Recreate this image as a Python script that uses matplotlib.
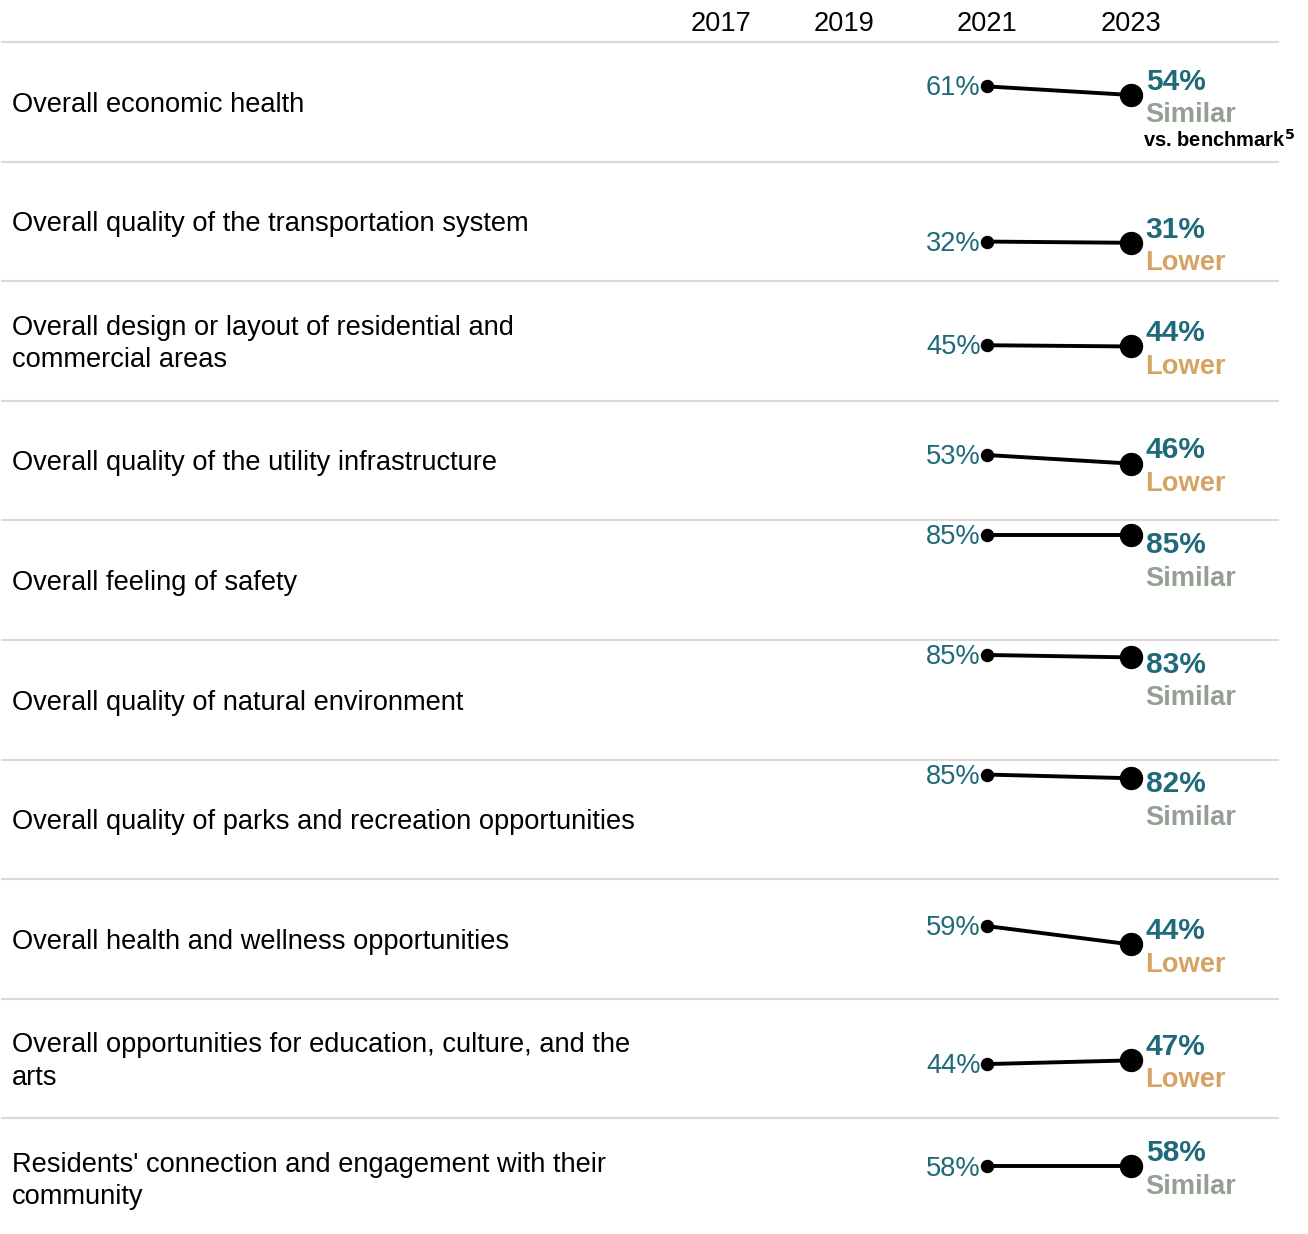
import matplotlib
matplotlib.use('Agg')
import matplotlib.pyplot as plt

plt.rcParams['font.family'] = ['Liberation Sans', 'DejaVu Sans']

# data
categories = [
    'Overall economic health',
    'Overall quality of the transportation system',
    'Overall design or layout of residential and\ncommercial areas',
    'Overall quality of the utility infrastructure',
    'Overall feeling of safety',
    'Overall quality of natural environment',
    'Overall quality of parks and recreation opportunities',
    'Overall health and wellness opportunities',
    'Overall opportunities for education, culture, and the\narts',
    "Residents' connection and engagement with their\ncommunity",
]
vals_2021 = [61, 32, 45, 53, 85, 85, 85, 59, 44, 58]
vals_2023 = [54, 31, 44, 46, 85, 83, 82, 44, 47, 58]
benchmark = ['Similar', 'Lower', 'Lower', 'Lower', 'Similar',
             'Similar', 'Similar', 'Lower', 'Lower', 'Similar']
header_years = ['2017', '2019', '2021', '2023']

teal = '#1f6a79'
bench_colors = {'Similar': '#939f93', 'Lower': '#d5a364'}
grid_col = '#d9d9d9'

W, H = 1308, 1234
fig = plt.figure(figsize=(W / 100, H / 100), dpi=100)

top0 = 42
row_h = 119.6
px_per_year = 72.0
x0 = 2021 - 987 / px_per_year
x1 = 2021 + (W - 987) / px_per_year
ylo, yhi = -0.3, 97.2
px_per_val = row_h / (yhi - ylo)
fs = 19.6
dn = -2.0  # small downward nudge for text baselines (points)

# header years
header_px = [721, 844, 987, 1131]
for lab, xp in zip(header_years, header_px):
    fig.text(xp / W, 1 - 24 / H, lab, ha='center', va='center', fontsize=fs, color='black')

for i, cat in enumerate(categories):
    top = top0 + i * row_h
    ax = fig.add_axes([0, 1 - (top + row_h) / H, 1, row_h / H])
    ax.set_xlim(x0, x1)
    ax.set_ylim(ylo, yhi)
    ax.axis('off')

    ax.axhline(yhi, xmin=2 / W, xmax=1278 / W, color=grid_col, lw=1.5, clip_on=False)

    ax.annotate(cat, (12 / W, 0.5), xycoords='axes fraction', xytext=(0, dn),
                textcoords='offset points', ha='left', va='center',
                fontsize=fs, color='black', linespacing=1.32)

    v1, v2 = vals_2021[i], vals_2023[i]
    ax.plot([2021, 2023], [v1, v2], color='black', lw=2.8, solid_capstyle='round', zorder=2)
    ax.scatter([2021], [v1], s=75, color='black', zorder=3)
    ax.scatter([2023], [v2], s=250, color='black', zorder=3)

    ax.annotate(f'{v1}%', (2021, v1), xytext=(-4.5, dn + 0.5), textcoords='offset points',
                ha='right', va='center', fontsize=fs, color=teal)

    ly = min(v2 + 16 / px_per_val, yhi - 22 / px_per_val)
    ax.annotate(f'{v2}%', (2023, ly), xytext=(10.5, dn), textcoords='offset points',
                ha='left', va='center', fontsize=21.5, color=teal, fontweight='bold')
    ax.annotate(benchmark[i], (2023, ly), xytext=(10.5, dn - 24), textcoords='offset points',
                ha='left', va='center', fontsize=fs, color=bench_colors[benchmark[i]],
                fontweight='bold')
    if i == 0:
        ax.annotate('vs. benchmark$^{\\mathbf{5}}$', (2023, ly), xytext=(8.5, dn - 42),
                    textcoords='offset points', ha='left', va='center', fontsize=14.5,
                    color='black', fontweight='bold', annotation_clip=False)

fig.savefig('out.png', dpi=100)
